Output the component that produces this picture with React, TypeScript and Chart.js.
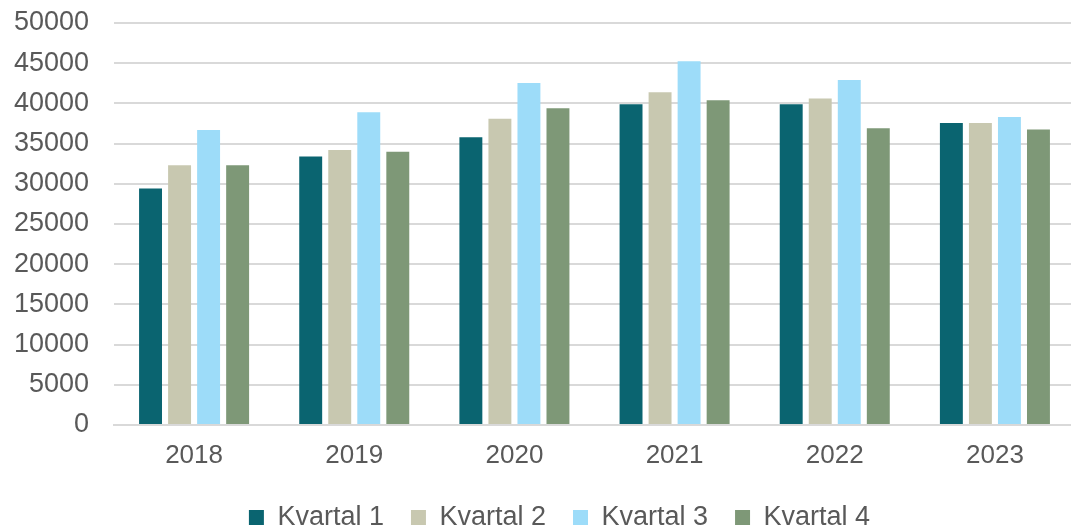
import React, { useEffect, useRef } from "react";
import { Chart, registerables } from "chart.js";

Chart.register(...registerables);

const categories = ["2018", "2019", "2020", "2021", "2022", "2023"];
const seriesNames = ["Kvartal 1", "Kvartal 2", "Kvartal 3", "Kvartal 4"];
const kvartal1 = [29400, 33400, 35800, 39900, 39900, 37550];
const kvartal2 = [32300, 34200, 38100, 41400, 40600, 37550];
const kvartal3 = [36700, 38900, 42550, 45250, 42900, 38300];
const kvartal4 = [32300, 34000, 39400, 40400, 36900, 36750];
const colors = ["#0a6470", "#c8c8b0", "#9ddcf9", "#7e9877"];
const yTicksMax = 50000;
const yStep = 5000;

const legendShift = {
  id: "legendShift",
  afterLayout(chart: any) {
    const lg = chart.legend;
    if (lg) {
      lg.left += 22;
      lg.right += 22;
    }
  },
};

export default function App() {
  const ref = useRef<HTMLCanvasElement | null>(null);
  useEffect(() => {
    document.body.style.margin = "0";
    document.body.style.overflow = "hidden";
    const family = "'Liberation Sans', Arial, sans-serif";
    const data = [kvartal1, kvartal2, kvartal3, kvartal4];
    const chart = new Chart(ref.current!, {
      type: "bar",
      data: {
        labels: categories,
        datasets: seriesNames.map((n, i) => ({
          label: n,
          data: data[i],
          backgroundColor: colors[i],
          categoryPercentage: 0.725,
          barPercentage: 0.79,
        })),
      },
      plugins: [legendShift],
      options: {
        animation: false,
        responsive: false,
        maintainAspectRatio: false,
        layout: { padding: { top: 23, right: 5, left: 0, bottom: -13 } },
        plugins: {
          tooltip: { enabled: false },
          legend: {
            position: "bottom",
            labels: {
              font: { family, size: 27 },
              color: "#595959",
              boxWidth: 15,
              boxHeight: 15,
              padding: 27,
            },
          },
        },
        scales: {
          x: {
            afterFit: (s: any) => {
              s.height = 52;
            },
            grid: { display: false, drawTicks: false },
            border: { display: true, color: "#d9d9d9", width: 2 },
            ticks: { font: { family, size: 26 }, color: "#595959", padding: 15 },
          },
          y: {
            min: 0,
            max: yTicksMax,
            afterFit: (s: any) => {
              s.width = 114;
            },
            grid: {
              color: "#d9d9d9",
              lineWidth: 2,
              drawTicks: true,
              tickLength: 25,
              tickColor: "rgba(0,0,0,0)",
            },
            border: { display: false },
            ticks: {
              stepSize: yStep,
              font: { family, size: 27 },
              color: "#595959",
              padding: 0,
              callback: (v: any) => String(v),
            },
          },
        },
      },
    });
    return () => chart.destroy();
  }, []);
  return (
    <div style={{ width: 1080, height: 528 }}>
      <canvas ref={ref} width={1080} height={528} style={{ display: "block" }} />
    </div>
  );
}
